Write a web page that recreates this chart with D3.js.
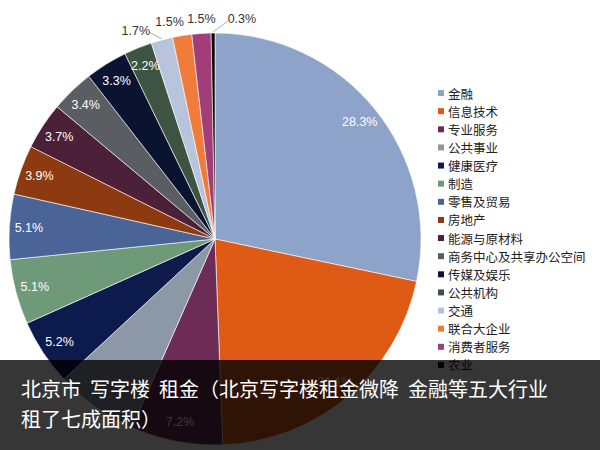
<!DOCTYPE html>
<html><head><meta charset="utf-8">
<script src="https://cdn.jsdelivr.net/npm/d3@7"></script>
<style>
body{margin:0;background:#fff;}
svg{display:block;}
text{white-space:pre;}
</style></head>
<body>
<svg id="chart" width="600" height="450"></svg>
<script>
const categories = ["金融","信息技术","专业服务","公共事业","健康医疗","制造","零售及贸易","房地产","能源与原材料","商务中心及共享办公空间","传媒及娱乐","公共机构","交通","联合大企业","消费者服务","农业"];
const values = [28.3,21.1,7.2,6.5,5.2,5.1,5.1,3.9,3.7,3.4,3.3,2.2,1.7,1.5,1.5,0.3];
const labels = ["28.3%","21.1%","7.2%","","5.2%","5.1%","5.1%","3.9%","3.7%","3.4%","3.3%","2.2%","1.7%","1.5%","1.5%","0.3%"];
const colors = ["#8ea3c9","#df5a14","#6c2c55","#8c98a5","#0c1b4c","#6f9a7a","#4a6498","#8d3a10","#4b2038","#5a5e63","#0a1430","#3e5443","#b8c4dc","#ef7c3a","#a13e7a","#000000"];
const outside = ["交通","联合大企业","消费者服务","农业"];
const outsideNudge = {"交通":[-22,6],"联合大企业":[-10,2],"消费者服务":[1,2],"农业":[29,2]};
const title1 = "北京市  写字楼  租金（北京写字楼租金微降  金融等五大行业";
const title2 = "租了七成面积）";

const svg = d3.select("#chart");
const cx = 215, cy = 239, r = 206;
const data = categories.map((c,i)=>({name:c,value:values[i],label:labels[i],color:colors[i]}));
const pie = d3.pie().value(d=>d.value).sort(null);
const arcs = pie(data);
const arc = d3.arc().innerRadius(0).outerRadius(r);
const g = svg.append("g").attr("transform",`translate(${cx},${cy})`);
g.selectAll("path").data(arcs).join("path")
  .attr("d",arc).attr("fill",d=>d.data.color)
  .attr("stroke","#fff").attr("stroke-width",0.6);

const labelArc = d3.arc().innerRadius(r*0.905).outerRadius(r*0.905);
g.selectAll("text.in").data(arcs.filter(d=>d.data.label && !outside.includes(d.data.name)))
  .join("text").attr("class","in")
  .attr("transform",d=>`translate(${labelArc.centroid(d)})`)
  .attr("text-anchor","middle").attr("dominant-baseline","central")
  .attr("font-family","Liberation Sans, Arial, sans-serif").attr("font-size",12.5)
  .attr("fill","#fff").text(d=>d.data.label);

const outArc = d3.arc().innerRadius(r+16).outerRadius(r+16);
const edgeArc = d3.arc().innerRadius(r).outerRadius(r);
arcs.filter(d=>outside.includes(d.data.name)).forEach(d=>{
  const p = outArc.centroid(d);
  const n = outsideNudge[d.data.name];
  const x = p[0]+n[0], y = p[1]+n[1];
  if (Math.abs(n[0])>15){
    const e = edgeArc.centroid(d);
    const lx = x + (n[0]<0 ? 14 : -14);
    g.append("line").attr("x1",e[0]).attr("y1",e[1]-1).attr("x2",lx).attr("y2",y+2)
      .attr("stroke","#999").attr("stroke-width",0.8);
  }
  g.append("text").attr("x",x).attr("y",y)
    .attr("text-anchor","middle").attr("dominant-baseline","central")
    .attr("font-family","Liberation Sans, Arial, sans-serif").attr("font-size",12.5)
    .attr("fill","#333").text(d.data.label);
});

// legend
const ly = d3.scaleBand().domain(categories).range([84,374]).paddingInner(0);
const leg = svg.append("g");
const li = leg.selectAll("g").data(data).join("g")
  .attr("transform",d=>`translate(441,${ly(d.name)+ly.bandwidth()/2})`);
li.append("rect").attr("x",-3).attr("y",-3).attr("width",6).attr("height",6).attr("fill",d=>d.color);
li.append("text").attr("x",7).attr("y",0).attr("dominant-baseline","central")
  .attr("font-family","Noto Sans CJK SC, sans-serif").attr("font-size",12.5).attr("fill","#222")
  .text(d=>d.name);

// caption overlay
svg.append("rect").attr("x",0).attr("y",360).attr("width",600).attr("height",90).attr("fill","rgba(0,0,0,0.79)");
const ft = svg.append("text").attr("font-family","Noto Sans CJK SC, sans-serif").attr("font-size",20).attr("fill","#fff");
ft.append("tspan").attr("x",21).attr("y",397).text(title1);
ft.append("tspan").attr("x",21).attr("y",427).text(title2);
</script>
</body></html>
